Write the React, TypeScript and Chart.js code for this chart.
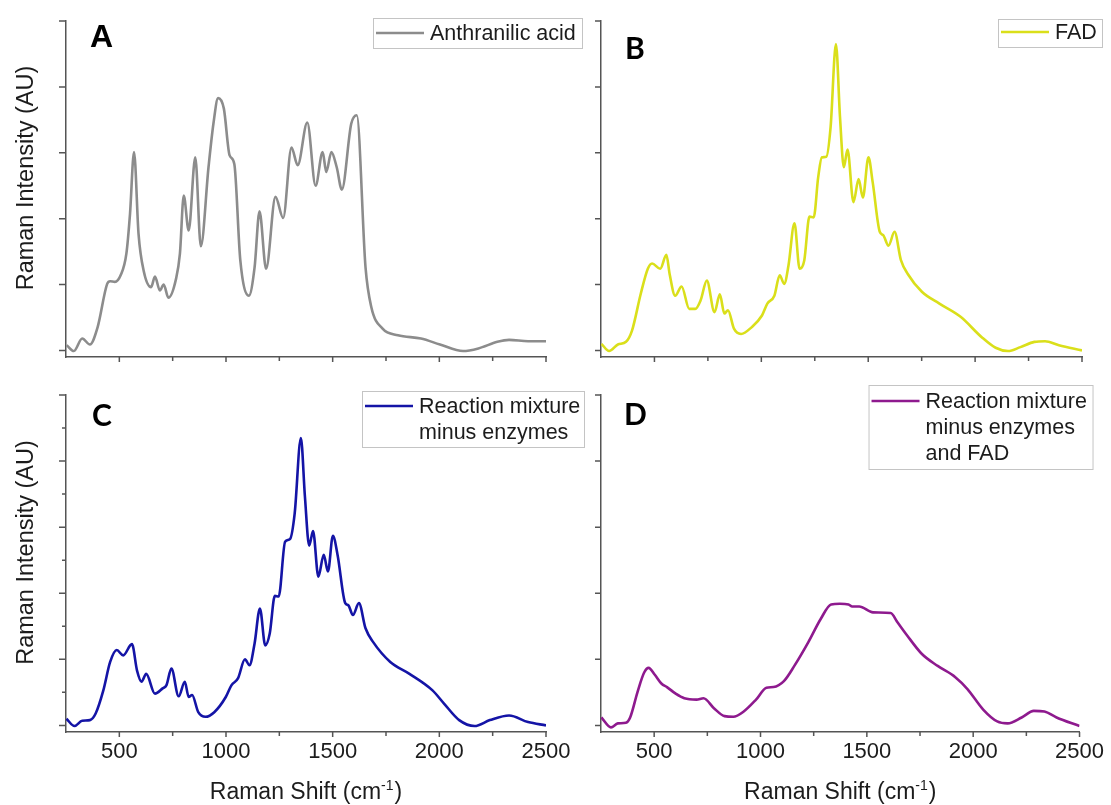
import React, { useEffect, useRef } from 'react';
import { Chart, registerables } from 'chart.js';

Chart.register(...registerables);

// ---------- axis ticks / labels ----------
const xMajorTicks = [500, 1000, 1500, 2000, 2500];
const xMinorTicks = [750, 1250, 1750, 2250];
const yMajorTicks = [0, 1, 2, 3, 4, 5];
const yMinorTicks = [0.5, 1.5, 2.5, 3.5, 4.5];

const yTitle = 'Raman Intensity (AU)';
const xTitleMain = 'Raman Shift (cm';
const xTitleSup = '-1';
const xTitleEnd = ')';

const panelLetters = ['A', 'B', 'C', 'D'];
const legendLabels = [
  ['Anthranilic acid'],
  ['FAD'],
  ['Reaction mixture', 'minus enzymes'],
  ['Reaction mixture', 'minus enzymes', 'and FAD'],
];

// ---------- series (Raman shift, intensity AU) ----------
const anthranilicX = [253, 287, 326, 362, 398, 443, 457, 479, 506, 533, 550, 569, 590, 614, 649, 667, 690, 708, 730, 766, 784, 802, 825, 856, 882, 918, 941, 963, 990, 1017, 1039, 1067, 1107, 1134, 1157, 1188, 1232, 1268, 1307, 1336, 1381, 1420, 1453, 1470, 1494, 1519, 1543, 1587, 1613, 1654, 1681, 1734, 1806, 1914, 2003, 2111, 2183, 2272, 2327, 2416, 2500];
const anthranilicY = [0.08, -0.01, 0.18, 0.09, 0.35, 1.01, 1.05, 1.04, 1.14, 1.47, 2.07, 3.01, 1.77, 1.21, 0.96, 1.12, 0.91, 1.0, 0.8, 1.09, 1.47, 2.35, 1.82, 2.93, 1.58, 2.78, 3.44, 3.83, 3.67, 2.96, 2.83, 1.37, 0.83, 1.26, 2.11, 1.24, 2.33, 2.01, 3.08, 2.81, 3.46, 2.5, 3.01, 2.71, 3.01, 2.78, 2.44, 3.44, 3.57, 1.26, 0.66, 0.33, 0.23, 0.18, 0.09, -0.01, 0.03, 0.13, 0.16, 0.14, 0.14];

const fadX = [252, 288, 329, 367, 395, 436, 469, 489, 527, 556, 571, 597, 627, 663, 691, 716, 745, 781, 806, 827, 844, 872, 905, 954, 1003, 1028, 1061, 1086, 1107, 1127, 1155, 1179, 1201, 1225, 1245, 1266, 1283, 1304, 1324, 1349, 1368, 1386, 1403, 1431, 1455, 1475, 1501, 1521, 1554, 1570, 1595, 1623, 1653, 1685, 1751, 1833, 1932, 2031, 2096, 2154, 2212, 2277, 2327, 2392, 2500];
const fadY = [0.1, -0.01, 0.09, 0.13, 0.3, 0.86, 1.24, 1.32, 1.24, 1.45, 1.16, 0.83, 0.97, 0.63, 0.63, 0.76, 1.06, 0.58, 0.85, 0.56, 0.61, 0.33, 0.25, 0.35, 0.53, 0.71, 0.83, 1.14, 1.01, 1.29, 1.93, 1.24, 1.37, 2.03, 2.02, 2.63, 2.93, 2.94, 3.39, 4.65, 3.54, 2.78, 3.05, 2.25, 2.6, 2.32, 2.93, 2.55, 1.8, 1.75, 1.59, 1.8, 1.37, 1.16, 0.89, 0.71, 0.51, 0.2, 0.04, -0.01, 0.05, 0.13, 0.14, 0.08, 0.0];

const mixX = [252, 290, 326, 362, 389, 425, 457, 488, 518, 559, 583, 604, 626, 667, 703, 721, 744, 778, 807, 825, 841, 870, 904, 945, 999, 1026, 1056, 1089, 1110, 1134, 1159, 1184, 1205, 1229, 1247, 1277, 1300, 1322, 1351, 1370, 1390, 1408, 1433, 1458, 1478, 1501, 1523, 1559, 1573, 1595, 1623, 1654, 1690, 1770, 1860, 1968, 2022, 2093, 2165, 2237, 2327, 2416, 2500];
const mixY = [0.1, -0.01, 0.07, 0.08, 0.18, 0.53, 0.96, 1.14, 1.06, 1.23, 0.83, 0.66, 0.78, 0.48, 0.56, 0.61, 0.86, 0.44, 0.66, 0.43, 0.46, 0.2, 0.13, 0.2, 0.43, 0.61, 0.71, 1.0, 0.91, 1.24, 1.77, 1.21, 1.39, 1.96, 1.95, 2.78, 2.82, 3.21, 4.35, 3.46, 2.72, 2.94, 2.25, 2.58, 2.33, 2.87, 2.58, 1.85, 1.82, 1.67, 1.85, 1.47, 1.26, 0.96, 0.78, 0.53, 0.33, 0.08, -0.01, 0.08, 0.15, 0.05, 0.0];

const mixNoFadX = [252, 297, 329, 367, 387, 423, 453, 474, 502, 535, 560, 601, 642, 699, 732, 781, 831, 872, 921, 979, 1028, 1061, 1110, 1159, 1225, 1283, 1332, 1373, 1414, 1431, 1464, 1529, 1612, 1644, 1685, 1759, 1833, 1916, 1973, 2047, 2113, 2162, 2228, 2285, 2335, 2392, 2500];
const mixNoFadY = [0.12, -0.03, 0.03, 0.04, 0.12, 0.52, 0.8, 0.87, 0.77, 0.63, 0.58, 0.48, 0.41, 0.39, 0.41, 0.26, 0.14, 0.13, 0.21, 0.39, 0.57, 0.58, 0.67, 0.9, 1.26, 1.61, 1.83, 1.84, 1.83, 1.8, 1.8, 1.71, 1.7, 1.56, 1.38, 1.08, 0.9, 0.73, 0.55, 0.24, 0.06, 0.03, 0.12, 0.22, 0.21, 0.12, -0.01];

// ---------- layout / style ----------
const FONT = '"Liberation Sans", Arial, Helvetica, sans-serif';
const AXIS_COLOR = '#555555';
const TEXT_COLOR = '#1c1c1c';

type Panel = {
  canvas: { left: number; top: number; w: number; h: number };
  area: { left: number; top: number; right: number; bottom: number };
  xs: number[];
  ys: number[];
  color: string;
  idx: number;
  letterFont: string;
  letterDx: number;
  letterDy: number;
  legend: { dr: number; dt: number; w: number; h: number; base: number };
  yTitleOn: boolean;
  xLabelsOn: boolean;
  yMinor: boolean;
};

const PANELS: Panel[] = [
  {
    canvas: { left: 0, top: 0, w: 595, h: 375 },
    area: { left: 66, top: 21, right: 546, bottom: 357 },
    xs: anthranilicX, ys: anthranilicY, color: '#8c8c8c', idx: 0,
    letterFont: `bold 32px ${FONT}`, letterDx: 24, letterDy: 26,
    legend: { dr: 36, dt: -3, w: 209, h: 30, base: 22 },
    yTitleOn: true, xLabelsOn: false, yMinor: false,
  },
  {
    canvas: { left: 595, top: 0, w: 516, h: 375 },
    area: { left: 601, top: 21, right: 1082, bottom: 357 },
    xs: fadX, ys: fadY, color: '#dadf1a', idx: 1,
    letterFont: `bold 30px Lato, "Open Sans", sans-serif`, letterDx: 24, letterDy: 38,
    legend: { dr: 20, dt: -2, w: 104, h: 28, base: 20 },
    yTitleOn: false, xLabelsOn: false, yMinor: false,
  },
  {
    canvas: { left: 0, top: 375, w: 595, h: 430 },
    area: { left: 66, top: 395, right: 546, bottom: 732 },
    xs: mixX, ys: mixY, color: '#1414a6', idx: 2,
    letterFont: `bold 30px Lato, "Open Sans", sans-serif`, letterDx: 26, letterDy: 31,
    legend: { dr: 38, dt: -4, w: 222, h: 56, base: 22 },
    yTitleOn: true, xLabelsOn: true, yMinor: true,
  },
  {
    canvas: { left: 595, top: 375, w: 516, h: 430 },
    area: { left: 601, top: 395, right: 1082, bottom: 732 },
    xs: mixNoFadX, ys: mixNoFadY, color: '#8e1a8e', idx: 3,
    letterFont: `bold 30px Lato, "Open Sans", sans-serif`, letterDx: 23, letterDy: 30,
    legend: { dr: 13, dt: -10, w: 224, h: 84, base: 23 },
    yTitleOn: false, xLabelsOn: true, yMinor: false,
  },
];

function PanelChart({ p }: { p: Panel }) {
  const ref = useRef<HTMLCanvasElement | null>(null);

  useEffect(() => {
    const canvas = ref.current;
    if (!canvas) return;

    const deco = {
      id: 'deco',
      afterDraw(chart: any) {
        const ctx = chart.ctx as CanvasRenderingContext2D;
        const ca = chart.chartArea;
        const sx = chart.scales.x;
        const sy = chart.scales.y;
        ctx.save();

        // tick marks
        ctx.strokeStyle = AXIS_COLOR;
        ctx.lineWidth = 1.5;
        ctx.beginPath();
        xMajorTicks.forEach((v) => {
          const px = sx.getPixelForValue(v);
          ctx.moveTo(px, ca.bottom);
          ctx.lineTo(px, ca.bottom + 5);
        });
        xMinorTicks.forEach((v) => {
          const px = sx.getPixelForValue(v);
          ctx.moveTo(px, ca.bottom);
          ctx.lineTo(px, ca.bottom + 4);
        });
        yMajorTicks.forEach((v) => {
          const py = sy.getPixelForValue(v);
          ctx.moveTo(ca.left - 7, py);
          ctx.lineTo(ca.left, py);
        });
        if (p.yMinor) {
          yMinorTicks.forEach((v) => {
            const py = sy.getPixelForValue(v);
            ctx.moveTo(ca.left - 4, py);
            ctx.lineTo(ca.left, py);
          });
        }
        ctx.stroke();

        // panel letter
        ctx.fillStyle = '#000';
        ctx.font = p.letterFont;
        ctx.textAlign = 'left';
        ctx.textBaseline = 'alphabetic';
        ctx.fillText(panelLetters[p.idx], ca.left + p.letterDx, ca.top + p.letterDy);

        // legend box
        const L = p.legend;
        const bx = ca.right + L.dr - L.w;
        const by = ca.top + L.dt;
        ctx.fillStyle = '#ffffff';
        ctx.fillRect(bx, by, L.w, L.h);
        ctx.strokeStyle = '#c4c4c4';
        ctx.lineWidth = 1;
        ctx.strokeRect(bx + 0.5, by + 0.5, L.w, L.h);
        ctx.strokeStyle = p.color;
        ctx.lineWidth = 2.5;
        ctx.beginPath();
        ctx.moveTo(bx + 3, by + L.base - 7);
        ctx.lineTo(bx + 51, by + L.base - 7);
        ctx.stroke();
        ctx.fillStyle = TEXT_COLOR;
        ctx.font = `21.5px ${FONT}`;
        legendLabels[p.idx].forEach((t, i) => {
          ctx.fillText(t, bx + 57, by + L.base + i * 26);
        });

        // y title
        if (p.yTitleOn) {
          ctx.save();
          ctx.translate(26.5, (ca.top + ca.bottom) / 2 - 11);
          ctx.rotate(-Math.PI / 2);
          ctx.textAlign = 'center';
          ctx.textBaseline = 'middle';
          ctx.font = `23.5px ${FONT}`;
          ctx.fillStyle = TEXT_COLOR;
          ctx.fillText(yTitle, 0, 0);
          ctx.restore();
        }

        // x title with superscript
        if (p.xLabelsOn) {
          const mainFont = `23px ${FONT}`;
          const supFont = `14px ${FONT}`;
          ctx.font = mainFont;
          const w1 = ctx.measureText(xTitleMain).width;
          const w3 = ctx.measureText(xTitleEnd).width;
          ctx.font = supFont;
          const w2 = ctx.measureText(xTitleSup).width;
          const total = w1 + w2 + w3 + 1;
          let x0 = (ca.left + ca.right) / 2 - total / 2;
          const base = ca.bottom + 66.5;
          ctx.fillStyle = TEXT_COLOR;
          ctx.textAlign = 'left';
          ctx.textBaseline = 'alphabetic';
          ctx.font = mainFont;
          ctx.fillText(xTitleMain, x0, base);
          x0 += w1;
          ctx.font = supFont;
          ctx.fillText(xTitleSup, x0, base - 9);
          x0 += w2 + 1;
          ctx.font = mainFont;
          ctx.fillText(xTitleEnd, x0, base);
        }
        ctx.restore();
      },
    };

    const chart = new Chart(canvas, {
      type: 'line',
      data: {
        datasets: [
          {
            data: p.xs.map((x, i) => ({ x, y: p.ys[i] })),
            borderColor: p.color,
            borderWidth: 2.6,
            pointRadius: 0,
            fill: false,
            cubicInterpolationMode: 'monotone',
          },
        ],
      },
      options: {
        responsive: false,
        maintainAspectRatio: false,
        animation: false,
        events: [],
        layout: {
          padding: {
            left: 0,
            top: p.area.top - p.canvas.top,
            right: p.canvas.left + p.canvas.w - p.area.right,
            bottom: 0,
          },
        },
        plugins: {
          legend: { display: false },
          tooltip: { enabled: false },
          title: { display: false },
        },
        scales: {
          x: {
            type: 'linear',
            position: 'bottom',
            min: 250,
            max: 2500,
            afterBuildTicks: (s: any) => {
              s.ticks = xMajorTicks.map((v) => ({ value: v }));
            },
            afterFit: (s: any) => {
              s.height = p.canvas.top + p.canvas.h - p.area.bottom;
            },
            ticks: {
              display: p.xLabelsOn,
              padding: 7,
              autoSkip: false,
              maxRotation: 0,
              color: TEXT_COLOR,
              font: { family: FONT, size: 22 },
              callback: (v: any) => String(v),
            },
            grid: { display: true, drawOnChartArea: false, drawTicks: false },
            border: { display: true, color: AXIS_COLOR, width: 1.5 },
          },
          y: {
            type: 'linear',
            position: 'left',
            min: -0.1,
            max: 5,
            afterBuildTicks: (s: any) => {
              s.ticks = yMajorTicks.map((v) => ({ value: v }));
            },
            afterFit: (s: any) => {
              s.width = p.area.left - p.canvas.left;
            },
            ticks: { display: false },
            grid: { display: true, drawOnChartArea: false, drawTicks: false },
            border: { display: true, color: AXIS_COLOR, width: 1.5 },
          },
        },
      },
      plugins: [deco],
    } as any);

    return () => chart.destroy();
  }, [p]);

  return (
    <canvas
      ref={ref}
      width={p.canvas.w}
      height={p.canvas.h}
      style={{
        position: 'absolute',
        left: p.canvas.left,
        top: p.canvas.top,
        width: p.canvas.w,
        height: p.canvas.h,
      }}
    />
  );
}

export default function App() {
  return (
    <div
      style={{
        position: 'absolute',
        left: 0,
        top: 0,
        width: 1111,
        height: 805,
        background: '#ffffff',
        overflow: 'hidden',
      }}
    >
      {PANELS.map((p) => (
        <PanelChart key={p.idx} p={p} />
      ))}
    </div>
  );
}
